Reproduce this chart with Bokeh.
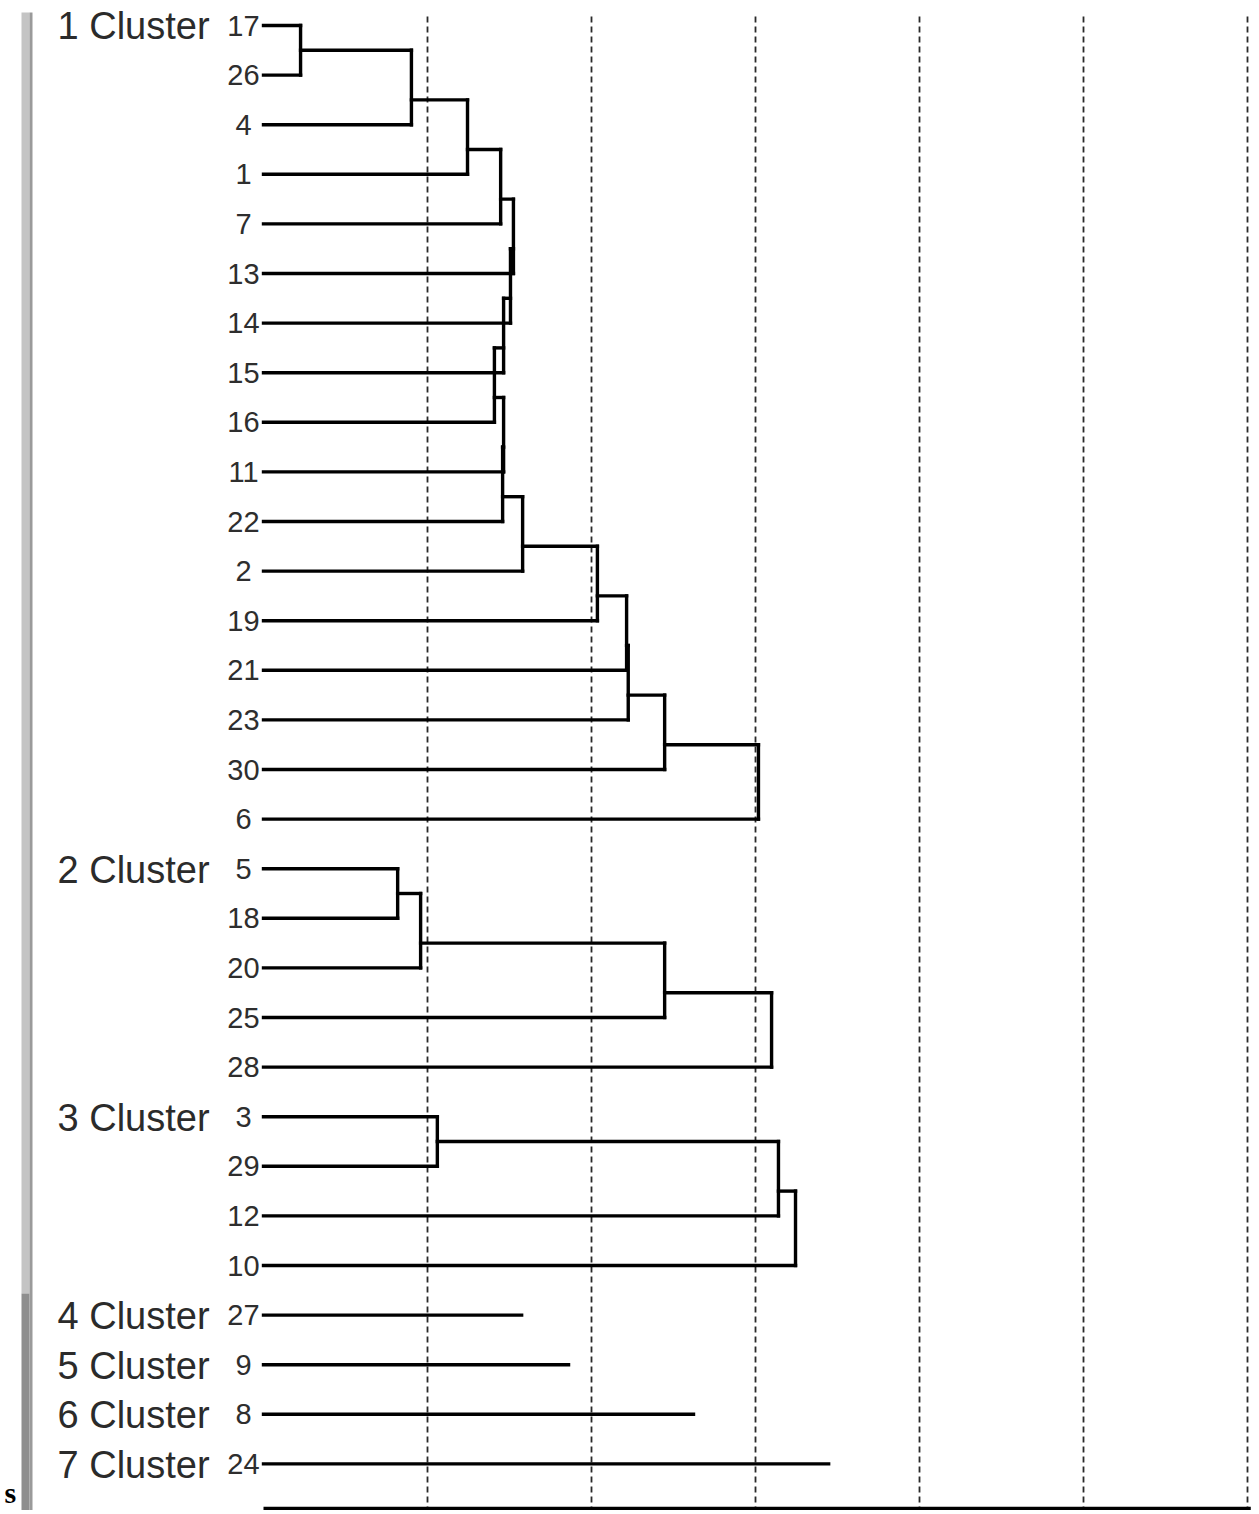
from bokeh.plotting import figure
from bokeh.models import ColumnDataSource, Range1d
from bokeh.core.properties import value
from bokeh.embed import file_html
from bokeh.resources import INLINE

# ---------------- data ----------------
leaf_labels = ["17", "26", "4", "1", "7", "13", "14", "15", "16", "11", "22", "2",
               "19", "21", "23", "30", "6", "5", "18", "20", "25", "28", "3", "29",
               "12", "10", "27", "9", "8", "24"]
# merges: ids 0..29 are leaves (row order), 30+ are merge nodes in order
merge_a = [0, 30, 31, 32, 33, 34, 35, 36, 37, 38, 39, 40, 41, 42, 43, 44,
           17, 46, 47, 48, 22, 50, 51]
merge_b = [1, 2, 3, 4, 5, 6, 7, 8, 9, 10, 11, 12, 13, 14, 15, 16,
           18, 19, 20, 21, 23, 24, 25]
merge_h = [1.13, 4.51, 6.22, 7.23, 7.62, 7.53, 7.32, 7.04, 7.32, 7.29, 7.90,
           10.18, 11.07, 11.12, 12.23, 15.09,
           4.09, 4.79, 12.23, 15.49,
           5.30, 15.70, 16.22]
stub_leaf = [26, 27, 28, 29]
stub_h = [7.87, 9.30, 13.11, 17.23]
cluster_names = ["1 Cluster", "2 Cluster", "3 Cluster", "4 Cluster",
                 "5 Cluster", "6 Cluster", "7 Cluster"]
cluster_first_leaf = [0, 17, 22, 26, 27, 28, 29]
grid_ticks = [5, 10, 15, 20, 25, 30]

# ---------------- tree geometry ----------------
n = len(leaf_labels)
lo = {i: i for i in range(n)}
hi = {i: i for i in range(n)}
nx = {i: 0.0 for i in range(n)}
ny = {i: float(i) for i in range(n)}
x0, y0, x1, y1 = [], [], [], []
for k, (a, b, h) in enumerate(zip(merge_a, merge_b, merge_h)):
    nid = n + k
    x0 += [nx[a], nx[b], h]
    y0 += [ny[a], ny[b], ny[a]]
    x1 += [h, h, h]
    y1 += [ny[a], ny[b], ny[b]]
    lo[nid] = lo[a]
    hi[nid] = hi[b]
    nx[nid] = h
    ny[nid] = (hi[a] + lo[b]) / 2.0
for leaf, h in zip(stub_leaf, stub_h):
    x0.append(0.0); y0.append(float(leaf)); x1.append(h); y1.append(float(leaf))

seg_src = ColumnDataSource(dict(x0=x0, y0=y0, x1=x1, y1=y1))

# ---------------- figure / scale ----------------
W, H = 1255, 1510
X_ORIGIN_PX, X_UNIT_PX = 263.0, 32.8     # screen position of 0 and px per unit
Y_ORIGIN_PX, Y_UNIT_PX = 25.0, 49.6      # screen position of first leaf, row spacing
XMIN = -X_ORIGIN_PX / X_UNIT_PX
XMAX = (W - X_ORIGIN_PX) / X_UNIT_PX
YTOP = -Y_ORIGIN_PX / Y_UNIT_PX
YBOT = (H - Y_ORIGIN_PX) / Y_UNIT_PX

p = figure(width=W, height=H, output_backend="svg", toolbar_location=None,
           x_range=Range1d(XMIN, XMAX), y_range=Range1d(YBOT, YTOP),
           min_border=0, background_fill_color="white", border_fill_color="white")
p.axis.visible = False
p.grid.visible = False
p.outline_line_color = None

def px_x(px):  # screen px -> data x (decoration only)
    return (px - X_ORIGIN_PX) / X_UNIT_PX

def px_y(py):
    return (py - Y_ORIGIN_PX) / Y_UNIT_PX

# left gray bar (screenshot decoration)
p.quad(left=[px_x(21)], right=[px_x(29)], top=[px_y(12)], bottom=[px_y(1293)],
       fill_color="#c4c4c4", line_color=None)
p.quad(left=[px_x(21)], right=[px_x(29)], top=[px_y(1293)], bottom=[px_y(1510)],
       fill_color="#8e8e8e", line_color=None)
p.quad(left=[px_x(29)], right=[px_x(32)], top=[px_y(12)], bottom=[px_y(1510)],
       fill_color="#9a9a9a", line_color=None)

# dashed reference lines
gsrc = ColumnDataSource(dict(x=grid_ticks, y0=[px_y(16)] * len(grid_ticks),
                             y1=[px_y(1510)] * len(grid_ticks)))
p.segment(x0="x", y0="y0", x1="x", y1="y1", source=gsrc,
          line_color="#2a2a2a", line_width=1.8, line_dash="6 4")

# bottom axis line
p.segment(x0=[0], y0=[px_y(1508)], x1=[grid_ticks[-1] + 0.1], y1=[px_y(1508)],
          line_color="black", line_width=3.5)

# dendrogram
p.segment(x0="x0", y0="y0", x1="x1", y1="y1", source=seg_src,
          line_color="black", line_width=3.4, line_cap="square")

# leaf labels
lsrc = ColumnDataSource(dict(x=[px_x(243)] * n, y=list(range(n)), t=leaf_labels))
p.text(x="x", y="y", text="t", source=lsrc, text_align="center",
       text_baseline="middle", text_font=value("Liberation Sans"),
       text_font_size="29px", text_color="#2e2e2e")

# cluster labels
csrc = ColumnDataSource(dict(x=[px_x(57)] * len(cluster_names),
                             y=[c + 0.02 for c in cluster_first_leaf],
                             t=cluster_names))
p.text(x="x", y="y", text="t", source=csrc, text_align="left",
       text_baseline="middle", text_font=value("Liberation Sans"),
       text_font_size="38px", text_color="#2b2b2b")

# stray "s" at bottom-left
p.text(x=[px_x(4)], y=[px_y(1508)], text=["s"], text_align="left",
       text_baseline="bottom", text_font=value("Liberation Serif"),
       text_font_size="30px", text_font_style="bold", text_color="black")

open("out.html", "w").write(file_html(p, INLINE))
